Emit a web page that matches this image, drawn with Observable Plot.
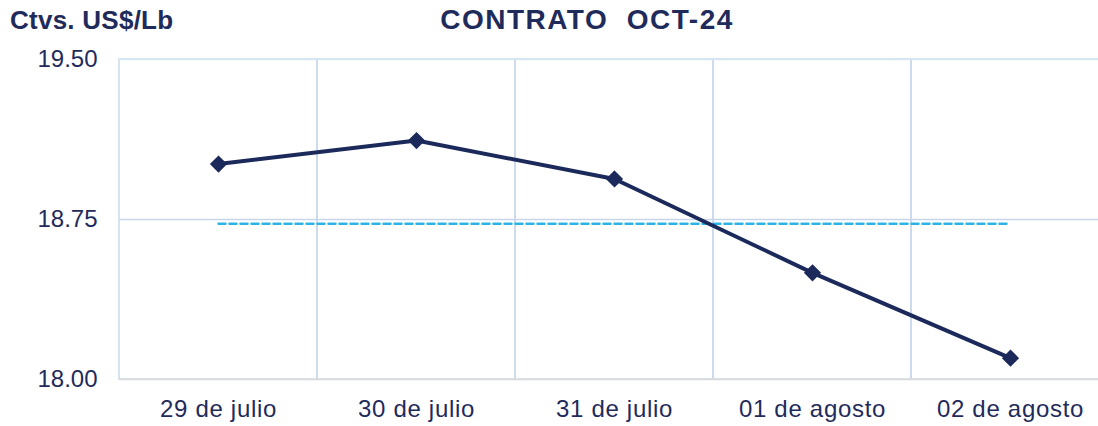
<!DOCTYPE html>
<html>
<head>
<meta charset="utf-8">
<script src="https://cdn.jsdelivr.net/npm/d3@7"></script>
<script src="https://cdn.jsdelivr.net/npm/@observablehq/plot@0.6"></script>
<style>
  html, body { margin: 0; padding: 0; background: #fff; }
  #wrap { position: relative; width: 1098px; height: 426px; overflow: hidden; font-family: "Liberation Sans", Arial, sans-serif; }
  #unit { position: absolute; left: 10px; top: 7px; font-size: 26px; font-weight: bold; color: #1f2b5b; line-height: 1; white-space: nowrap; letter-spacing: 0.25px; }
  #title { position: absolute; left: 587px; top: 6px; transform: translateX(-50%); font-size: 28px; font-weight: bold; color: #1f2b5b; line-height: 1; white-space: pre; letter-spacing: 1.5px; }
  #chart { position: absolute; left: 0; top: 0; }
  g[aria-label="x-axis tick label"] text { letter-spacing: 0.7px; }
</style>
</head>
<body>
<div id="wrap">
  <div id="chart"></div>
  <div id="unit">Ctvs. US$/Lb</div>
  <div id="title">CONTRATO  OCT-24</div>
</div>
<script>
const fechas = ["29 de julio", "30 de julio", "31 de julio", "01 de agosto", "02 de agosto"];
const precios = [19.01, 19.12, 18.94, 18.50, 18.10];
const promedio = 18.73;
const yTicks = [18.00, 18.75, 19.50];

const data = fechas.map((f, i) => ({fecha: f, precio: precios[i], prom: promedio}));

const navy = "#1b2a5a";
const textColor = "#1f2b5b";

const chart = Plot.plot({
  width: 1098,
  height: 426,
  marginTop: 59,
  marginBottom: 47,
  marginLeft: 119,
  marginRight: 0,
  style: {fontFamily: "'Liberation Sans', Arial, sans-serif", fontSize: "24px", color: textColor, background: "transparent", overflow: "hidden"},
  x: {type: "band", domain: fechas, range: [119, 1109], padding: 0, label: null},
  y: {domain: [18, 19.5], label: null},
  marks: [
    Plot.cell(fechas, {x: d => d, fill: "none", stroke: "#c8d7ea", strokeWidth: 1.4}),
    Plot.ruleY([19.5], {stroke: "#d5e8f1", strokeWidth: 1.5}),
    Plot.ruleY([18.75], {stroke: "#c9d6e9", strokeWidth: 1.5}),
    Plot.ruleY([18], {stroke: "#d9d9d9", strokeWidth: 1.5}),
    Plot.axisY({ticks: yTicks, tickFormat: d3.format(".2f"), tickSize: 0, tickPadding: 22, fontSize: 24, fill: textColor, label: null}),
    Plot.axisX({tickSize: 0, tickPadding: 20, fontSize: 24, fill: textColor, label: null}),
    Plot.lineY(data, {x: "fecha", y: "prom", stroke: "#2db4e6", strokeWidth: 2.5, strokeDasharray: "7,4"}),
    Plot.lineY(data, {x: "fecha", y: "precio", stroke: navy, strokeWidth: 4}),
    Plot.dot(data, {x: "fecha", y: "precio", symbol: "diamond2", r: 6.8, fill: navy, stroke: navy, strokeWidth: 1.5})
  ]
});
document.getElementById("chart").appendChild(chart);
</script>
</body>
</html>
